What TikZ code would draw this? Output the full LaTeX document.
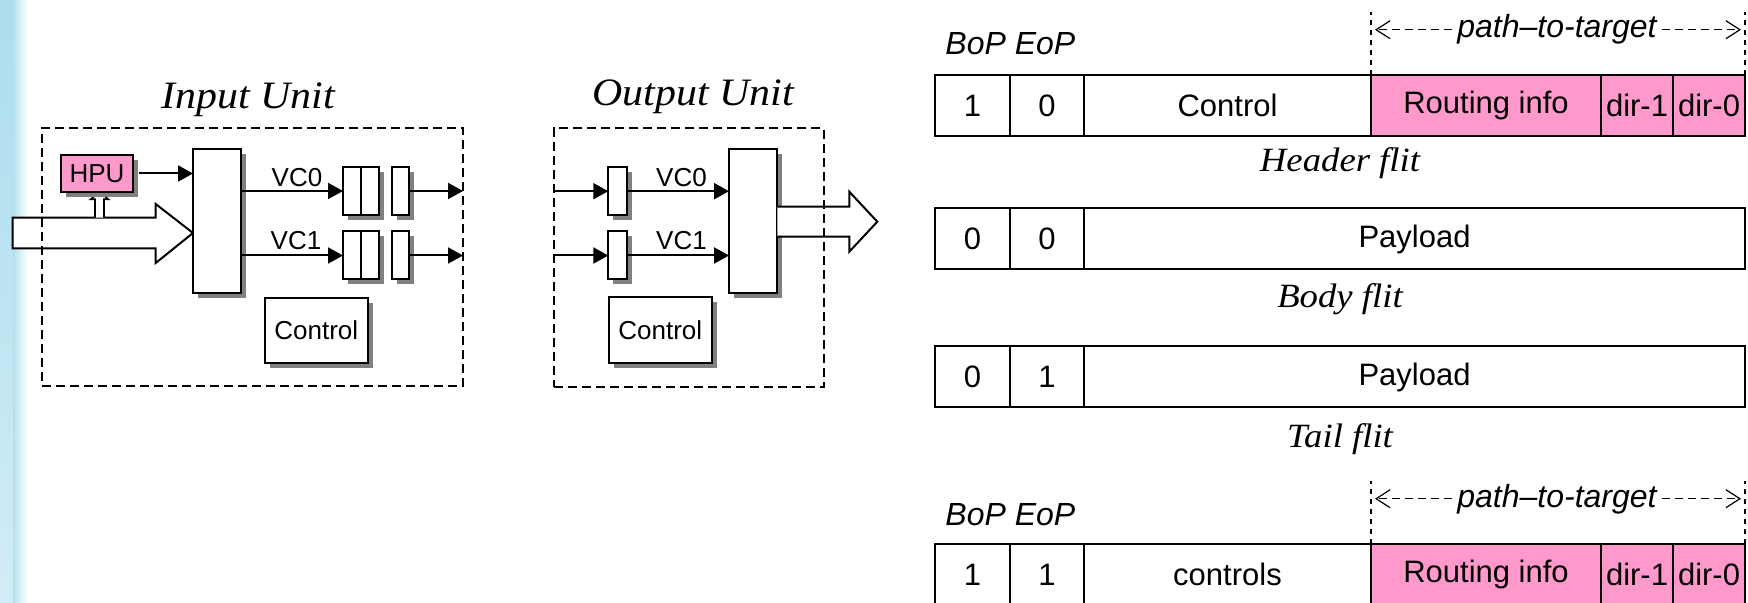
\documentclass[tikz,border=0pt]{standalone}
\usepackage{fontspec}
\setmainfont{Liberation Serif}
\setsansfont{Liberation Sans}
\newfontfamily\titlefont[FakeStretch=1.08]{Liberation Serif}
\newfontfamily\tagfont{Liberation Sans}
\usetikzlibrary{arrows.meta,shadows,calc}

\definecolor{flitpink}{RGB}{255,153,204}
\definecolor{stripblue}{RGB}{172,221,238}
\definecolor{shadowgray}{RGB}{128,128,128}

\tikzset{
  blk/.style={draw, line width=1pt, fill=white, inner sep=0pt, outer sep=0pt,
    font=\sffamily\fontsize{13pt}{15pt}\selectfont,
    drop shadow={shadow xshift=2.5pt, shadow yshift=-2.5pt, fill=shadowgray, opacity=1}},
  unitbox/.style={draw, line width=1pt, dash pattern=on 4.5pt off 2.5pt, inner sep=0pt, outer sep=0pt},
  sig/.style={line width=1pt, -{Triangle[length=7.5pt,width=8pt]}},
  fat/.style={draw, line width=1pt, fill=white, line join=miter},
  vclabel/.style={anchor=base, inner sep=0pt, font=\sffamily\fontsize{13pt}{15pt}\selectfont},
  unittitle/.style={anchor=base, inner sep=0pt, font=\titlefont\itshape\fontsize{19.4pt}{22pt}\selectfont},
  flitlabel/.style={anchor=base, inner sep=0pt, font=\titlefont\itshape\fontsize{17pt}{20pt}\selectfont},
  cell/.style={draw, line width=1pt, inner sep=0pt, outer sep=0pt, minimum height=30.5pt,
    font=\sffamily\fontsize{15.5pt}{18pt}\selectfont},
  pinkcell/.style={cell, fill=flitpink},
  tag/.style={inner ysep=0pt, inner xsep=2.5pt, font=\tagfont\itshape\fontsize{16pt}{19pt}\selectfont},
  guide/.style={line width=0.7pt, dash pattern=on 2.5pt off 2.5pt},
  dim/.style={line width=0.6pt, dash pattern=on 4pt off 2.5pt,
    -{Straight Barb[length=7pt,width=9pt,line width=0.6pt]}, shorten >=2pt},
}

\begin{document}
\begin{tikzpicture}[x=0.5pt,y=-0.5pt]
\useasboundingbox (0,0) rectangle (1748,603);
\clip (0,0) rectangle (1748,603);

% pale blue band along the left edge
\shade[top color=stripblue, bottom color=stripblue!55!white] (0,0) rectangle (13,603);
\shade[left color=stripblue!90!white, right color=white] (13,0) rectangle (28,603);

% ---------------- Input unit ----------------
\node[unittitle] (intitle) at (248,109) {Input Unit};

% wide incoming link
\draw[fat] (12.7,217.7) -- (155.7,217.7) -- (155.7,204) -- (193,233)
  -- (155.7,263) -- (155.7,248.3) -- (12.7,248.3) -- cycle;
% header tap towards the HPU
\draw[fat, line width=0.8pt] (95,217.7) -- (95,199.3) -- (90.7,199.3) -- (99.5,191.7)
  -- (108.3,199.3) -- (104,199.3) -- (104,217.7);

\node[blk, fill=flitpink, minimum width=36pt, minimum height=18.5pt] (hpu) at (97,173.5) {HPU};
\node[blk, minimum width=24pt, minimum height=72pt] (muxin) at (217,221) {};

\node[blk, minimum width=18pt, minimum height=24pt] (ib0a) at (361,191) {};
\node[blk, minimum width=8.8pt, minimum height=24pt] (ib0b) at (400.5,191) {};
\node[blk, minimum width=18pt, minimum height=24pt] (ib1a) at (361,255.5) {};
\node[blk, minimum width=8.8pt, minimum height=24pt] (ib1b) at (400.5,255.5) {};
\draw[line width=1pt] (ib0a.north) -- (ib0a.south);
\draw[line width=1pt] (ib1a.north) -- (ib1a.south);

\node[blk, minimum width=51.4pt, minimum height=32.5pt] (inctl) at (316.3,330.2) {Control};

\node[unitbox, minimum width=210.5pt, minimum height=129pt] (inunit) at (252.5,257) {};

\draw[sig, shorten <=3pt] (hpu.east) -- (hpu.east -| muxin.west);
\draw[sig] (muxin.east |- ib0a.west) -- (ib0a.west);
\draw[sig] (muxin.east |- ib1a.west) -- (ib1a.west);
\draw[sig] (ib0b.east) -- (ib0b.east -| inunit.east);
\draw[sig] (ib1b.east) -- (ib1b.east -| inunit.east);
\node[vclabel] (invc0) at (297,187) {VC0};
\node[vclabel] (invc1) at (296,250) {VC1};

% ---------------- Output unit ----------------
\node[unittitle] (outtitle) at (693,106) {Output Unit};

\node[blk, minimum width=9.5pt, minimum height=24pt] (ob0) at (617.8,191.2) {};
\node[blk, minimum width=9.5pt, minimum height=24pt] (ob1) at (617.8,255.5) {};
\node[blk, minimum width=24.15pt, minimum height=72pt] (muxout) at (753.2,221.3) {};
\node[blk, minimum width=51.4pt, minimum height=32.7pt] (outctl) at (660.3,330) {Control};

% wide outgoing link
\draw[fat] (777.3,206.7) -- (849.3,206.7) -- (849.3,191.7) -- (877.3,221.7)
  -- (849.3,251.7) -- (849.3,236.7) -- (777.3,236.7);

\node[unitbox, minimum width=135pt, minimum height=129.2pt] (outunit) at (689,257.5) {};

\draw[sig] (ob0.west -| outunit.west) -- (ob0.west);
\draw[sig] (ob1.west -| outunit.west) -- (ob1.west);
\draw[sig] (ob0.east) -- (ob0.east -| muxout.west);
\draw[sig] (ob1.east) -- (ob1.east -| muxout.west);
\node[vclabel] (outvc0) at (681.5,186.7) {VC0};
\node[vclabel] (outvc1) at (681.5,250) {VC1};

% ---------------- Flit formats ----------------
% header flit
\node[tag, anchor=base west, inner xsep=0pt] (bop1) at (945,55) {BoP EoP};
\node[cell, minimum width=37.5pt] (h1) at (972.5,105.5) {1};
\node[cell, minimum width=37pt] (h2) at (1047,105.5) {0};
\node[cell, minimum width=143.5pt] (h3) at (1227.5,105.5) {Control};
\node[pinkcell, minimum width=115pt] (h4) at (1486,105.5) {Routing info};
\node[pinkcell, minimum width=36pt] (h5) at (1637,105.5) {dir-1};
\node[pinkcell, minimum width=36pt] (h6) at (1709,105.5) {dir-0};
\draw[guide] (h4.north west) -- ++(0,-63);
\draw[guide] (h6.north east) -- ++(0,-63);
\node[tag, anchor=base] (ptt1) at (1557,38) {path–to-target};
\draw[dim] (ptt1.west) -- (ptt1.west -| h4.west);
\draw[dim] (ptt1.east) -- (ptt1.east -| h6.east);
\node[flitlabel] (hdrlab) at (1340,171.7) {Header flit};

% body flit
\node[cell, minimum width=37.5pt] (b1) at (972.5,239) {0};
\node[cell, minimum width=37pt] (b2) at (1047,239) {0};
\node[cell, minimum width=330.5pt] (b3) at (1414.5,239) {Payload};
\node[flitlabel] (bodylab) at (1340,308) {Body flit};

% tail flit
\node[cell, minimum width=37.5pt] (t1) at (972.5,377) {0};
\node[cell, minimum width=37pt] (t2) at (1047,377) {1};
\node[cell, minimum width=330.5pt] (t3) at (1414.5,377) {Payload};
\node[flitlabel] (taillab) at (1340,447) {Tail flit};

% single-flit packet
\node[tag, anchor=base west, inner xsep=0pt] (bop2) at (945,525) {BoP EoP};
\node[cell, minimum width=37.5pt] (s1) at (972.5,574.5) {1};
\node[cell, minimum width=37pt] (s2) at (1047,574.5) {1};
\node[cell, minimum width=143.5pt] (s3) at (1227.5,574.5) {controls};
\node[pinkcell, minimum width=115pt] (s4) at (1486,574.5) {Routing info};
\node[pinkcell, minimum width=36pt] (s5) at (1637,574.5) {dir-1};
\node[pinkcell, minimum width=36pt] (s6) at (1709,574.5) {dir-0};
\draw[guide] (s4.north west) -- ++(0,-63);
\draw[guide] (s6.north east) -- ++(0,-63);
\node[tag, anchor=base] (ptt2) at (1557,507) {path–to-target};
\draw[dim] (ptt2.west) -- (ptt2.west -| s4.west);
\draw[dim] (ptt2.east) -- (ptt2.east -| s6.east);
\end{tikzpicture}
\end{document}
